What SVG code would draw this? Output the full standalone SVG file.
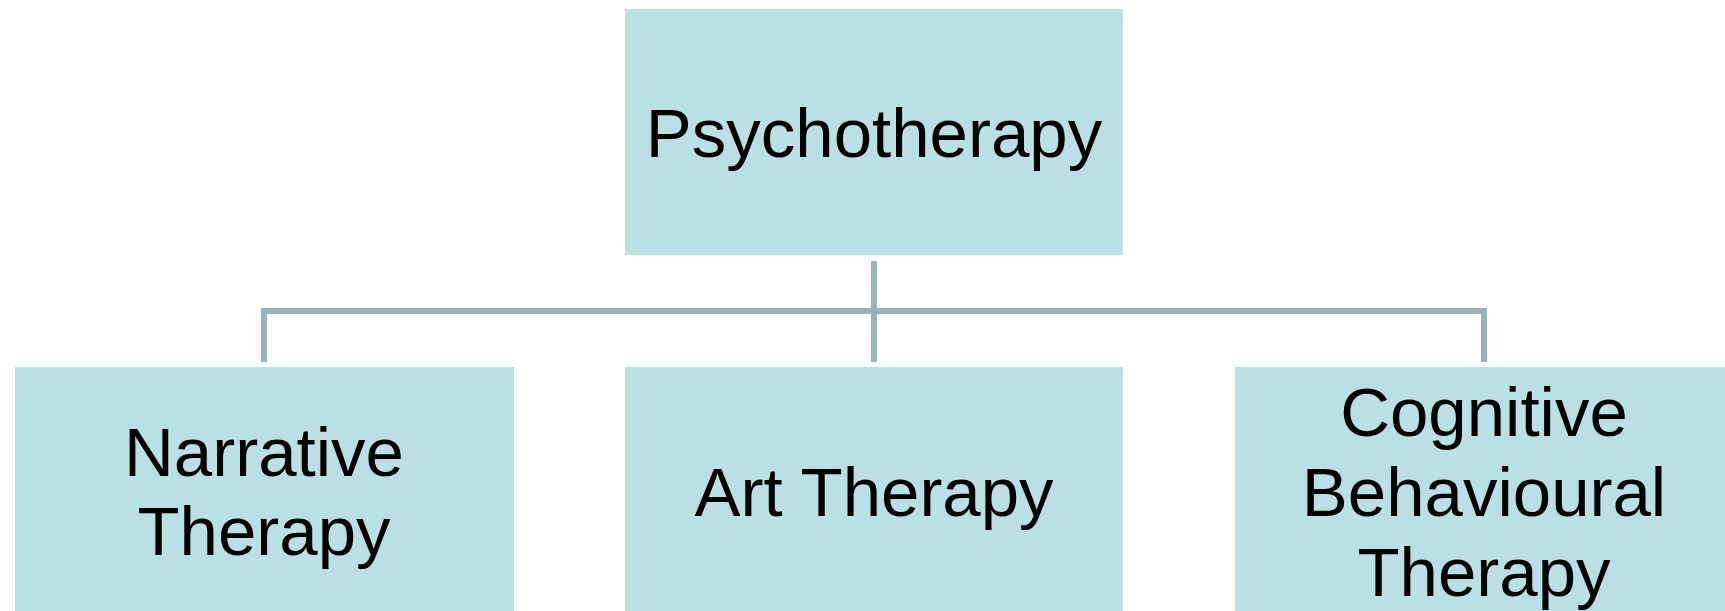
<svg xmlns="http://www.w3.org/2000/svg" width="1725" height="611" viewBox="0 0 1725 611">
<style>
.box{fill:#BBE0E3}
.lbl{font-family:"Liberation Sans",Arial,sans-serif;font-size:69px;fill:#000;text-anchor:middle}
.con{stroke:#97B5B9;stroke-width:6;fill:none}
</style>
<rect width="1725" height="611" fill="#fff"/>
<g id="connectors">
<line class="con" x1="874" y1="261" x2="874" y2="362"/>
<polyline class="con" points="264,362 264,311 1484,311 1484,362"/>
</g>
<g id="psychotherapy">
<rect class="box" x="625" y="9" width="498" height="246"/>
<text class="lbl" x="874" y="157">Psychotherapy</text>
</g>
<g id="narrative">
<rect class="box" x="15" y="367" width="499" height="250"/>
<text class="lbl" x="264" y="476">Narrative</text>
<text class="lbl" x="264" y="555">Therapy</text>
</g>
<g id="art">
<rect class="box" x="625" y="367" width="498" height="250"/>
<text class="lbl" x="874" y="516">Art Therapy</text>
</g>
<g id="cbt">
<rect class="box" x="1235" y="367" width="499" height="250"/>
<text class="lbl" x="1484" y="436">Cognitive</text>
<text class="lbl" x="1484" y="516">Behavioural</text>
<text class="lbl" x="1484" y="596">Therapy</text>
</g>
</svg>
